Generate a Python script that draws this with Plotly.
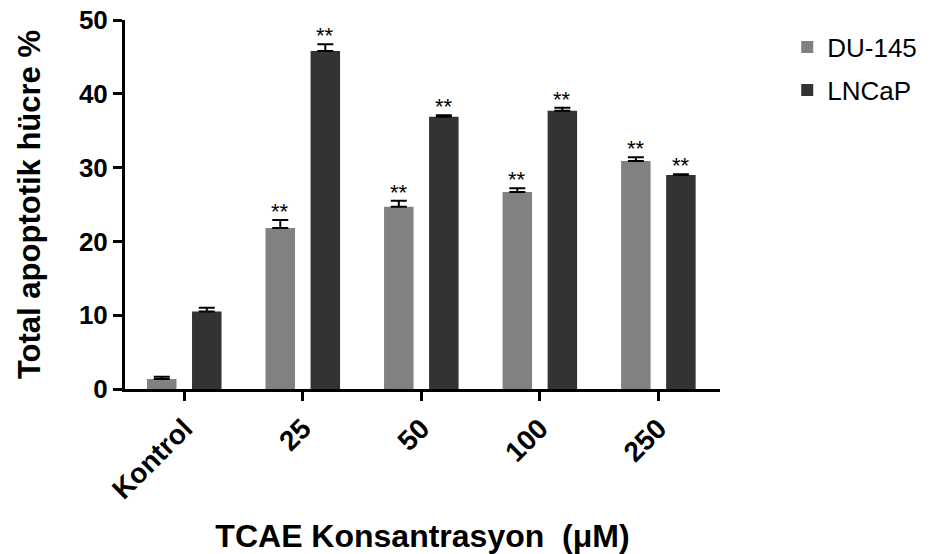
import plotly.graph_objects as go

# Apoptosis data: mean % and error per concentration
categories = ["Kontrol", "25", "50", "100", "250"]
du145 = [1.35, 21.8, 24.7, 26.7, 30.9]
du145_err = [0.3, 1.1, 0.8, 0.5, 0.5]
lncap = [10.5, 45.8, 36.9, 37.7, 29.0]
lncap_err = [0.5, 0.9, 0.2, 0.4, 0.1]
du145_sig = ["", "**", "**", "**", "**"]
lncap_sig = ["", "**", "**", "**", "**"]

FONT = "Arial, Liberation Sans, sans-serif"
GRAY = "#818181"
DARK = "#333333"

fig = go.Figure()
for name, vals, errs, color in [
    ("DU-145", du145, du145_err, GRAY),
    ("LNCaP", lncap, lncap_err, DARK),
]:
    fig.add_trace(go.Bar(
        name=name, legendgroup=name, x=categories, y=vals, marker_color=color,
        marker_line_width=0,
        error_y=dict(type="data", array=errs, symmetric=False, arrayminus=[0] * len(errs),
                     color="#000000", thickness=2, width=8),
    ))

# Significance markers above the error caps
slot = (1 - 0.24) / 2
for vals, errs, sig, side in [(du145, du145_err, du145_sig, -1), (lncap, lncap_err, lncap_sig, 1)]:
    for i, (v, e, s) in enumerate(zip(vals, errs, sig)):
        if not s:
            continue
        fig.add_annotation(
            x=i + side * slot / 2, y=v + e, text=s, showarrow=False,
            yanchor="bottom", yshift=-6, font=dict(family=FONT, size=22, color="#000"),
        )

fig.update_layout(
    width=941, height=554,
    margin=dict(l=125, r=221, t=20, b=165),
    plot_bgcolor="white", paper_bgcolor="white",
    barmode="group", bargap=0.24, bargroupgap=0.345,
    font=dict(family=FONT, color="#000"),
    legend=dict(x=1.113, y=0.99, xanchor="left", yanchor="top",
                font=dict(size=26, family=FONT), itemsizing="constant",
                tracegroupgap=6, bgcolor="rgba(0,0,0,0)"),
    xaxis=dict(
        type="category", range=[-0.5, 4.52], automargin=False,
        showline=True, linecolor="#000", linewidth=3,
        ticks="outside", ticklen=9, tickwidth=3, tickcolor="#000",
        tickangle=-45, tickfont=dict(size=28, family=FONT, weight="bold"),
        title=dict(text="TCAE Konsantrasyon  (μM)", standoff=26,
                   font=dict(size=32, family=FONT, weight="bold")),
        showgrid=False, zeroline=False,
    ),
    yaxis=dict(
        range=[0, 50], dtick=10, automargin=False,
        showline=True, linecolor="#000", linewidth=3,
        ticks="outside", ticklen=9, tickwidth=3, tickcolor="#000",
        tickfont=dict(size=26, family=FONT, weight="bold"),
        title=dict(text="Total apoptotik hücre %", standoff=30,
                   font=dict(size=31, family=FONT, weight="bold")),
        showgrid=False, zeroline=False,
    ),
)

fig.write_html("out.html")
